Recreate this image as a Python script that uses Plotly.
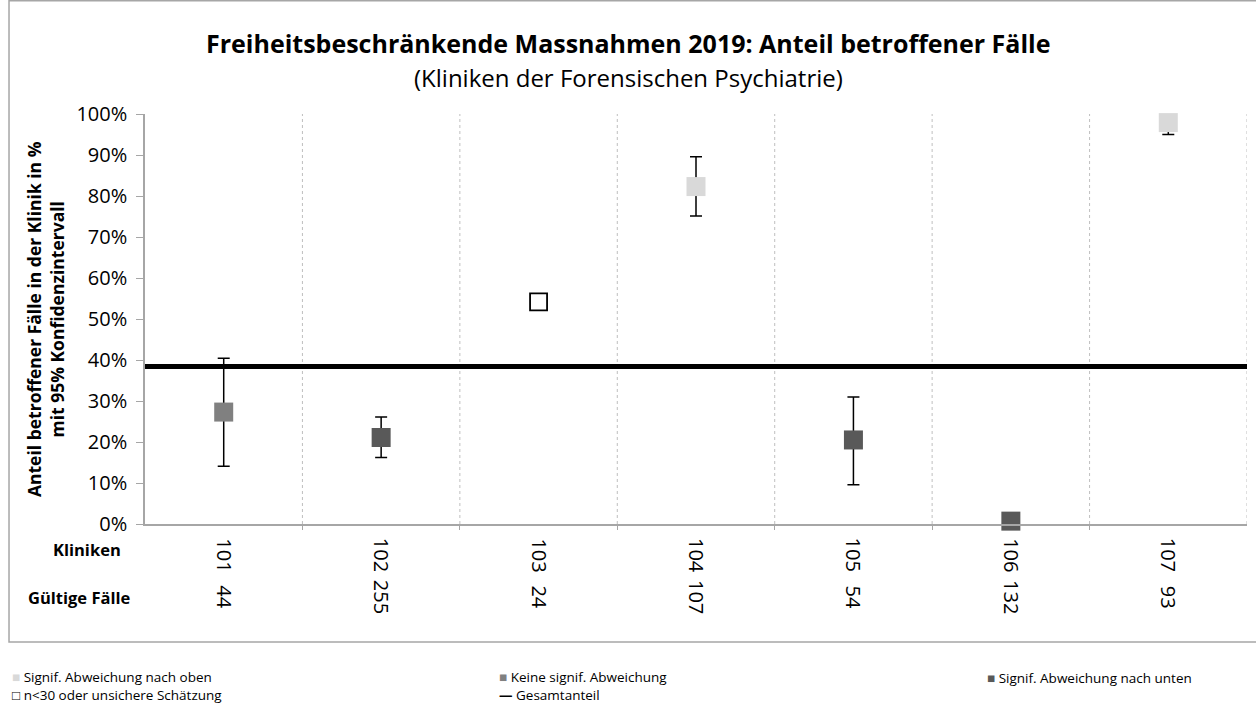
import plotly.graph_objects as go

# ---- data ----
kliniken = ["101", "102", "103", "104", "105", "106", "107"]
faelle = ["44", "255", "24", "107", "54", "132", "93"]
anteil = [27.3, 21.1, 54.2, 82.3, 20.5, 0.7, 97.9]
ci_upper = [40.4, 26.1, None, 89.6, 31.0, None, 99.4]
ci_lower = [14.1, 16.2, None, 75.1, 9.6, None, 95.0]
status = ["neutral", "down", "uncertain", "up", "down", "down", "up"]
gesamtanteil = 38.4
y_ticks = [0, 10, 20, 30, 40, 50, 60, 70, 80, 90, 100]

title = "Freiheitsbeschränkende Massnahmen 2019: Anteil betroffener Fälle"
subtitle = "(Kliniken der Forensischen Psychiatrie)"
y_title = "Anteil betroffener Fälle in der Klinik in %<br>mit 95% Konfidenzintervall"

colors = {"up": "#D9D9D9", "neutral": "#808080", "down": "#595959", "uncertain": "white"}

FONT = "Open Sans"

fig = go.Figure()

for st in ["up", "neutral", "down", "uncertain"]:
    idx = [i for i, s in enumerate(status) if s == st]
    if not idx:
        continue
    xs = idx
    ys = [anteil[i] for i in idx]
    plus = [(ci_upper[i] - anteil[i]) if ci_upper[i] is not None else 0 for i in idx]
    minus = [(anteil[i] - ci_lower[i]) if ci_lower[i] is not None else 0 for i in idx]
    has_err = any(ci_upper[i] is not None for i in idx)
    fig.add_trace(go.Scatter(
        x=xs, y=ys, mode="markers",
        marker=dict(symbol="square", size=19 if st != "uncertain" else 17,
                    color=colors[st],
                    line=dict(color="black" if st == "uncertain" else colors[st],
                              width=1.8 if st == "uncertain" else 0)),
        error_y=dict(type="data", symmetric=False, array=plus, arrayminus=minus,
                     color="black", thickness=1.5, width=6,
                     visible=has_err),
        cliponaxis=False, showlegend=False,
    ))

n = len(kliniken)
shapes = []
# vertical dotted separators
for k in range(n):
    shapes.append(dict(type="line", xref="x", yref="paper", x0=k + 0.5, x1=k + 0.5,
                       y0=0, y1=1, line=dict(color="#BFBFBF", width=1, dash="dot"),
                       layer="below"))
# total line
shapes.append(dict(type="line", xref="paper", yref="y", x0=0, x1=1,
                   y0=gesamtanteil, y1=gesamtanteil,
                   line=dict(color="black", width=5), layer="above"))
# outer frame
shapes.append(dict(type="rect", xref="paper", yref="paper",
                   x0=-0.1234, x1=1.012, y0=-0.2878, y1=1.276,
                   line=dict(color="#A6A6A6", width=1.5), fillcolor="rgba(0,0,0,0)"))

annotations = [
    dict(text="<b>" + title + "</b>", xref="paper", yref="paper", x=0.4383, y=1.1732,
         showarrow=False, font=dict(size=25, color="black", family=FONT),
         xanchor="center", yanchor="middle"),
    dict(text=subtitle, xref="paper", yref="paper", x=0.4383, y=1.0902,
         showarrow=False, font=dict(size=24, color="black", family=FONT),
         xanchor="center", yanchor="middle"),
    dict(text="<b>" + y_title + "</b>", xref="paper", yref="paper", x=-0.0907, y=0.5,
         textangle=-90, showarrow=False, font=dict(size=17.5, color="black", family=FONT),
         xanchor="center", yanchor="middle"),
    dict(text="<b>Kliniken</b>", xref="paper", yref="paper", x=-0.0526, y=-0.061,
         showarrow=False, font=dict(size=16.5, color="black", family=FONT),
         xanchor="center", yanchor="middle"),
    dict(text="<b>Gültige Fälle</b>", xref="paper", yref="paper", x=-0.0599, y=-0.180,
         showarrow=False, font=dict(size=16.5, color="black", family=FONT),
         xanchor="center", yanchor="middle"),
]
for i in range(n):
    annotations.append(dict(text=kliniken[i], xref="x", yref="paper", x=i, y=-0.0756,
                            textangle=90, showarrow=False,
                            font=dict(size=20, color="black", family=FONT),
                            xanchor="center", yanchor="middle"))
    annotations.append(dict(text=faelle[i], xref="x", yref="paper", x=i, y=-0.178,
                            textangle=90, showarrow=False,
                            font=dict(size=20, color="black", family=FONT),
                            xanchor="center", yanchor="middle"))

legend_cols = [
    ("<span style='color:#D9D9D9'>■</span> Signif. Abweichung nach oben<br>"
     "<b>□</b> n<30 oder unsichere Schätzung", -0.1225, -0.3951),
    ("<span style='color:#808080'>■</span> Keine signif. Abweichung<br>"
     "<b>—</b> Gesamtanteil", 0.3194, -0.3951),
    ("<span style='color:#595959'>■</span> Signif. Abweichung nach unten", 0.7623, -0.3756),
]
for txt, xx, yy in legend_cols:
    annotations.append(dict(text=txt, xref="paper", yref="paper", x=xx, y=yy,
                            showarrow=False, align="left",
                            font=dict(size=13.5, color="black", family=FONT),
                            xanchor="left", yanchor="middle"))

fig.update_layout(
    width=1256, height=709,
    margin=dict(l=145, r=9, t=114, b=185, autoexpand=False),
    paper_bgcolor="white", plot_bgcolor="white",
    font=dict(family=FONT, color="black"),
    shapes=shapes, annotations=annotations,
    xaxis=dict(range=[-0.5, n - 0.5], showgrid=False, zeroline=False,
               showline=True, linecolor="#A6A6A6", linewidth=1.5,
               tickvals=[k + 0.5 for k in range(n - 1)], ticktext=[""] * (n - 1),
               ticks="outside", ticklen=4, tickcolor="#A6A6A6"),
    yaxis=dict(range=[0, 100], tickvals=y_ticks, ticktext=[f"{v}%" for v in y_ticks],
               showgrid=False, zeroline=False, showline=True, linecolor="#A6A6A6",
               linewidth=1.5, ticks="outside", ticklen=7, tickcolor="#A6A6A6",
               ticklabelstandoff=5,
               tickfont=dict(size=20, color="black", family=FONT)),
)

fig.write_html("out.html", config={"displayModeBar": False},
               post_script="document.body.style.margin='0';document.body.style.overflow='hidden';")
